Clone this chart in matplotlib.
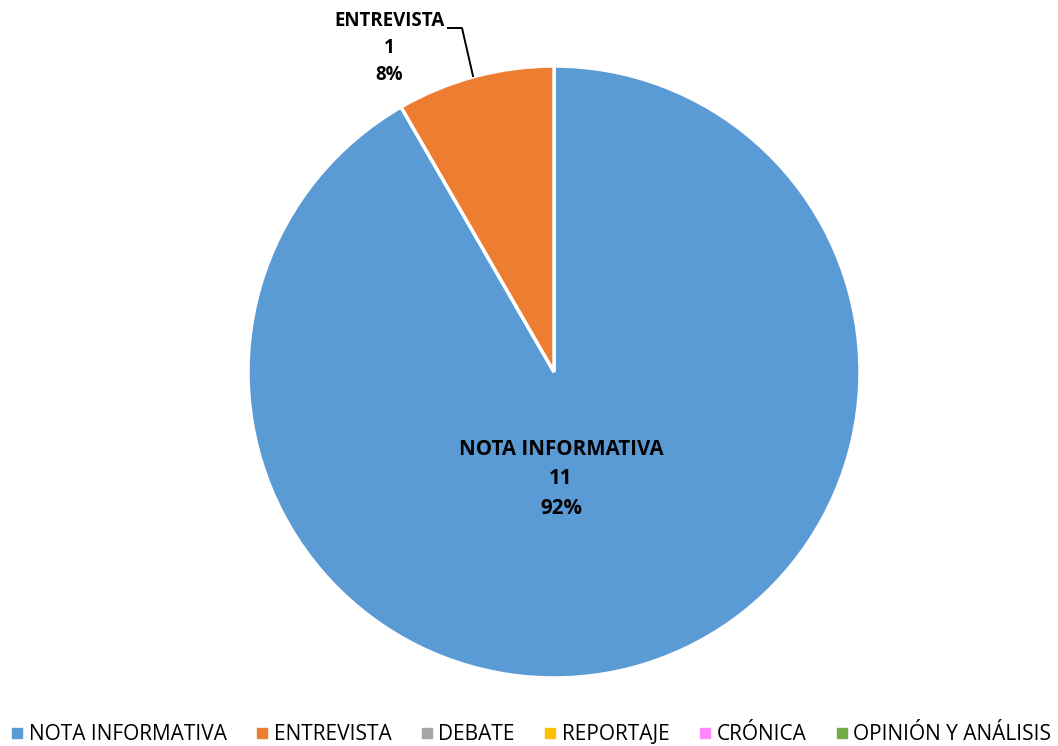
import matplotlib
matplotlib.use("Agg")
import matplotlib.pyplot as plt
from matplotlib.lines import Line2D

categories = ["NOTA INFORMATIVA", "ENTREVISTA", "DEBATE", "REPORTAJE", "CRÓNICA", "OPINIÓN Y ANÁLISIS"]
values = [11, 1, 0, 0, 0, 0]
percents = ["92%", "8%", "0%", "0%", "0%", "0%"]
colors = ["#5B9BD5", "#ED7D31", "#A5A5A5", "#FFC000", "#FF88FF", "#70AD47"]

FONT = ["Open Sans", "DejaVu Sans"]
plt.rcParams['font.family'] = FONT

W, H = 1058, 746
fig = plt.figure(figsize=(W / 100, H / 100), dpi=100)
cx, cy, r = 554, 372, 306
ax = fig.add_axes([(cx - r) / W, (H - cy - r) / H, 2 * r / W, 2 * r / H])

nz = [(c, v, p, col) for c, v, p, col in zip(categories, values, percents, colors) if v > 0]
wedges, _ = ax.pie([v for _, v, _, _ in nz], colors=[col for _, _, _, col in nz],
                   startangle=90, counterclock=False, radius=1,
                   wedgeprops=dict(edgecolor="white", linewidth=2.5))
ax.set_xlim(-1, 1)
ax.set_ylim(-1, 1)
ax.set_aspect('equal')
ax.axis('off')

def px(x, y):
    return ((x - cx) / r, (cy - y) / r)

# label for main slice
tx, ty = px(561, 479)
ax.text(tx, ty, f"{nz[0][0]}\n{nz[0][1]}\n{nz[0][2]}", ha="center", va="center",
        fontsize=14.8, fontweight="bold", linespacing=1.52, color="black")

# label for small slice with leader line
lx, ly = px(389, 48)
ax.text(lx, ly, f"{nz[1][0]}\n{nz[1][1]}\n{nz[1][2]}", ha="center", va="center",
        fontsize=13.5, fontweight="bold", linespacing=1.45, color="black")
p1 = px(448, 28); p2 = px(462, 28); p3 = px(473, 76)
ax.plot([p1[0], p2[0], p3[0]], [p1[1], p2[1], p3[1]], color="black", lw=1.4, clip_on=False)

handles = [Line2D([0], [0], marker='s', linestyle='none', markersize=7,
                  markerfacecolor=c, markeredgecolor=c) for c in colors]
fig.legend(handles, categories, loc="center", bbox_to_anchor=(0.5, (H - 735) / H),
           ncol=6, frameon=False, fontsize=15, handletextpad=0.05,
           columnspacing=1.2, handlelength=1.0, borderaxespad=0)

fig.savefig("out.png", dpi=100)
